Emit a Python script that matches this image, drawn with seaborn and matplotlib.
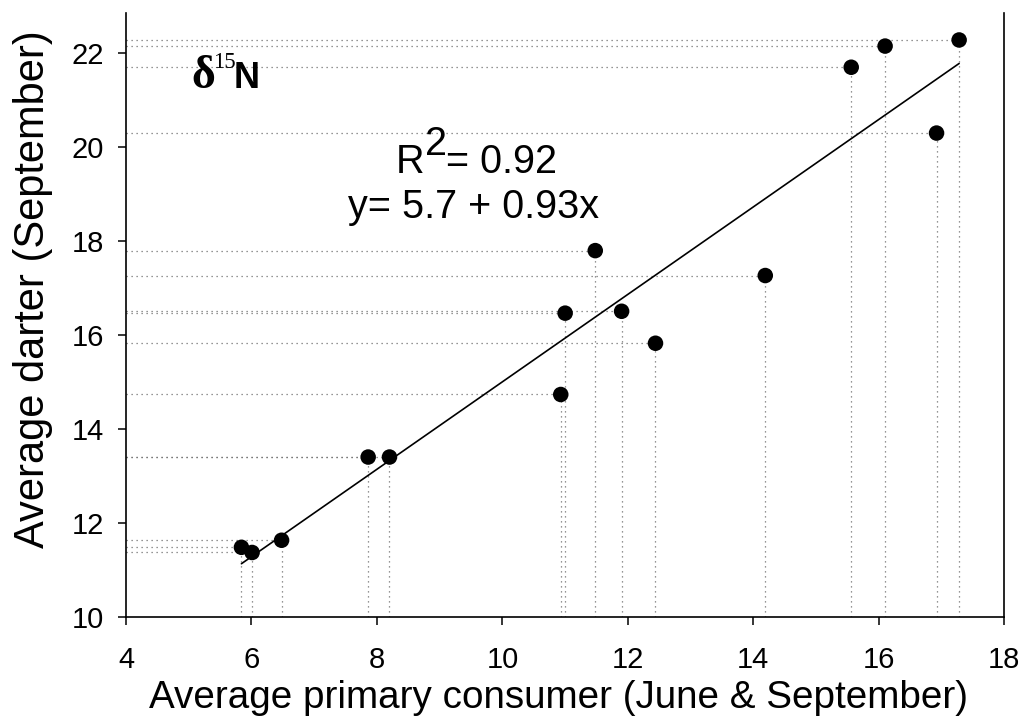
import matplotlib
matplotlib.use("Agg")
import matplotlib.pyplot as plt
import numpy as np
import pandas as pd
import seaborn as sns

# Stable-isotope averages (delta 15N) for each site
primary_consumer = [5.84, 6.01, 6.48, 7.86, 8.20, 10.93, 11.00, 11.48,
                    11.90, 12.44, 14.19, 15.56, 16.10, 16.92, 17.28]
darter = [11.48, 11.37, 11.63, 13.40, 13.40, 14.73, 16.46, 17.79,
          16.50, 15.82, 17.26, 21.69, 22.14, 20.29, 22.27]

# Fitted regression reported on the chart
intercept = 5.7
slope = 0.93
r_squared = 0.92

x_ticks = [4, 6, 8, 10, 12, 14, 16, 18]
y_ticks = [10, 12, 14, 16, 18, 20, 22]
x_limits = (4, 18)
y_limits = (10, 22.85)

df = pd.DataFrame({"consumer": primary_consumer, "darter": darter})

sns.set_style("ticks")
plt.rcParams["font.family"] = ["Liberation Sans", "DejaVu Sans"]
plt.rcParams.update({
    "text.color": "black",
    "axes.labelcolor": "black",
    "xtick.color": "black",
    "ytick.color": "black",
    "axes.edgecolor": "black",
})

W, H = 1027, 724
fig = plt.figure(figsize=(W / 100, H / 100), dpi=100)
ax = fig.add_axes([126 / W, 1 - 616.9 / H, (1004.3 - 126) / W, (616.9 - 12.7) / H])

ax.set_xlim(*x_limits)
ax.set_ylim(*y_limits)

# Dotted drop lines from each point to both axes
dot_style = dict(color="0.45", linewidth=0.9, linestyle=(0, (1, 3)), zorder=1)
ax.hlines(df["darter"], x_limits[0], df["consumer"], **dot_style)
ax.vlines(df["consumer"], y_limits[0], df["darter"], **dot_style)

# Regression line over the observed range
fit_x = np.array([df["consumer"].min(), df["consumer"].max()])
fit = pd.DataFrame({"x": fit_x, "y": intercept + slope * fit_x})
sns.lineplot(data=fit, x="x", y="y", ax=ax, color="black", linewidth=1.2, zorder=2)

sns.scatterplot(data=df, x="consumer", y="darter", ax=ax, color="black",
                s=125, edgecolor="none", zorder=3)

ax.set_xticks(x_ticks)
ax.set_yticks(y_ticks)
ax.tick_params(axis="both", direction="out", length=6, width=1.1,
               labelsize=21, color="black", labelcolor="black")
ax.tick_params(axis="x", pad=15)
ax.tick_params(axis="y", pad=10)

ax.set_xlabel("Average primary consumer (June & September)", fontsize=27.8,
              labelpad=4, color="black")
ax.set_ylabel("Average darter (September)", fontsize=30, labelpad=13,
              color="black")
ax.xaxis.label.set_x(0.4924)
ax.yaxis.label.set_y(0.542)

for side in ("left", "bottom", "right"):
    ax.spines[side].set_visible(True)
    ax.spines[side].set_color("black")
    ax.spines[side].set_linewidth(1.2)
ax.spines["top"].set_visible(False)

def px(x, y):
    return x / W, 1 - y / H

# Isotope label
fig.text(*px(191, 88.5), "\u03b4", fontsize=33, fontweight="bold",
         family="Liberation Serif", ha="left", va="baseline")
fig.text(*px(213, 68.5), "15", fontsize=16.5, family="Liberation Serif",
         ha="left", va="baseline")
fig.text(*px(234, 88.5), "N", fontsize=26, fontweight="bold",
         family="Liberation Sans", ha="left", va="baseline")

# Fit statistics
fig.text(*px(396, 172.7), "R", fontsize=28.5, ha="left", va="baseline")
fig.text(*px(425, 155), "2", fontsize=28.5, ha="left", va="baseline")
fig.text(*px(446, 172.7), f"= {r_squared:.2f}", fontsize=28.5, ha="left",
         va="baseline")
fig.text(*px(474, 218.3), f"y= {intercept} + {slope}x", fontsize=28.5,
         ha="center", va="baseline")

fig.savefig("out.png", dpi=100, facecolor="white")
